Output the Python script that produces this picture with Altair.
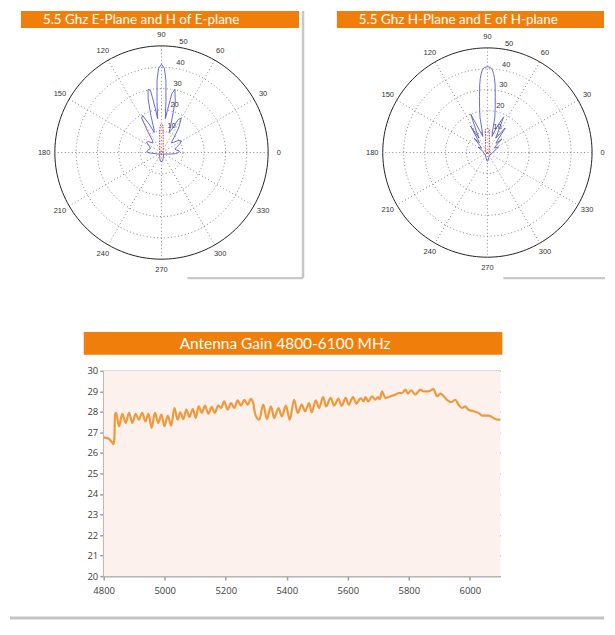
import altair as alt
import pandas as pd

# ---------------- texts ----------------
E_TITLE = "5.5 Ghz E-Plane and H of E-plane"
H_TITLE = "5.5 Ghz H-Plane and E of H-plane"
GAIN_TITLE = "Antenna Gain 4800-6100 MHz"

# ---------------- polar grid ----------------
ring_values = [10, 20, 30, 40]
ring_max = 50
ring_labels = [10, 20, 30, 40, 50]
spoke_angles = [0, 30, 60, 90, 120, 150]
angle_labels = [0, 30, 60, 90, 120, 150, 180, 210, 240, 270, 300, 330]
circle_angles = list(range(0, 361, 2))

# ---------------- E-plane pattern (blue) and H of E-plane (red) ----------------
e_blue_angle = [0, 5, 10, 15, 20, 25, 30, 35, 40, 45, 50, 55, 60, 63, 66, 69, 72, 75, 78, 80,
                82, 83.5, 85, 86.5, 88, 90, 92, 93.5, 95, 96.5, 98, 100, 102, 104, 106, 108, 110, 113, 117, 120,
                123, 127, 132, 140, 146, 152, 160, 170, 178, 182, 190, 200, 215, 230, 245, 255, 263, 270, 277, 285,
                295, 310, 325, 340, 350, 355, 360]
e_blue_r = [8.0, 8.4, 7.0, 6.5, 7.5, 9.5, 10.8, 10.0, 7.5, 6.5, 9.0, 14.0, 18.5, 17.5, 12.0, 10.0, 15.0, 25.0, 30.3, 28.0,
            20.0, 16.0, 24.0, 34.0, 39.5, 41.4, 39.5, 34.0, 24.0, 16.0, 21.0, 29.5, 30.3, 26.0, 18.0, 11.0, 10.0, 14.0, 19.5, 18.5,
            12.0, 7.0, 6.0, 8.0, 8.5, 6.5, 5.5, 6.5, 7.0, 5.5, 3.0, 2.0, 1.2, 1.5, 2.0, 3.0, 4.0, 4.5, 4.0, 3.0,
            2.0, 1.5, 1.2, 2.0, 4.0, 6.5, 8.0]
red_angle = [0, 30, 50, 65, 75, 80, 83, 85, 86, 87, 88, 89, 90, 91, 92, 93, 94, 95, 97, 100,
             105, 115, 130, 150, 180, 210, 240, 270, 300, 330, 360]
e_red_r = [0.8, 0.9, 1.2, 1.9, 3.1, 4.6, 6.6, 9.2, 10.8, 12.4, 13.0, 13.2, 13.2, 13.2, 13.0, 12.4, 10.8, 9.2, 6.6, 4.6,
           3.1, 1.9, 1.2, 0.9, 0.8, 0.7, 0.6, 0.6, 0.6, 0.7, 0.8]

# ---------------- H-plane pattern (blue) and E of H-plane (red) ----------------
h_blue_angle = [0, 10, 20, 27, 33, 38, 43, 47, 50, 54, 57, 60, 65.5, 69, 72, 74, 77, 78, 80, 82,
                83.5, 84.5, 85.5, 86.5, 88, 90, 92, 93.5, 94.5, 95.5, 96.5, 98, 100, 102, 103, 106, 110, 113.5, 117, 120,
                122.5, 126, 129, 133, 137, 143, 150, 157, 170, 180, 200, 230, 255, 265, 270, 275, 285, 310, 340, 360]
h_blue_r = [2.5, 3.0, 4.5, 6.0, 4.0, 5.0, 9.5, 6.0, 7.0, 14.5, 10.0, 8.0, 18.5, 14.0, 10.0, 8.0, 12.0, 17.0, 21.5, 27.0,
            32.5, 35.5, 37.8, 39.5, 40.7, 41.0, 40.7, 39.5, 37.8, 35.5, 32.5, 27.0, 21.5, 17.0, 12.0, 8.0, 12.0, 20.0, 12.0, 8.0,
            15.0, 8.0, 6.0, 9.3, 5.0, 3.5, 5.0, 3.0, 2.0, 2.0, 1.5, 1.5, 2.5, 3.8, 4.2, 3.8, 2.5, 1.5, 2.0, 2.5]
h_red_r = [0.9, 1.0, 1.4, 2.1, 3.5, 5.2, 7.4, 10.3, 11.2, 11.4, 11.5, 11.6, 11.6, 11.6, 11.5, 11.4, 11.2, 10.3, 7.4, 5.2,
           3.5, 2.1, 1.4, 1.0, 0.9, 0.7, 0.6, 0.6, 0.6, 0.7, 0.9]

# ---------------- antenna gain ----------------
gain_freq = [4800, 4814, 4822, 4828, 4832, 4835, 4837, 4841, 4850, 4861, 4872, 4883, 4894, 4905, 4915, 4926,
             4937, 4947, 4957, 4968, 4979, 4989, 4999, 5010, 5021, 5032, 5042, 5051, 5061, 5071, 5081, 5092,
             5102, 5111, 5122, 5132, 5143, 5154, 5164, 5175, 5185, 5195, 5206, 5217, 5228, 5239, 5250, 5261,
             5272, 5282, 5290, 5297, 5310, 5323, 5335, 5348, 5359, 5373, 5384, 5397, 5410, 5424, 5436, 5449,
             5460, 5473, 5482, 5495, 5506, 5519, 5529, 5544, 5555, 5569, 5580, 5593, 5603, 5617, 5628, 5642,
             5652, 5658, 5667, 5680, 5690, 5699, 5705, 5712, 5723, 5740, 5756, 5767, 5778, 5789, 5797, 5808,
             5821, 5838, 5849, 5865, 5881, 5892, 5903, 5914, 5925, 5939, 5952, 5963, 5974, 5985, 5995, 6012,
             6028, 6041, 6061, 6072, 6083, 6093, 6100]
gain_db = [26.76, 26.71, 26.62, 26.5, 26.43, 26.7, 27.87, 27.95, 27.30, 27.91, 27.46, 27.95, 27.46, 27.91, 27.62, 27.95,
           27.54, 27.91, 27.22, 27.95, 27.46, 27.87, 27.30, 27.82, 27.33, 28.19, 27.62, 27.98, 27.65, 28.11, 27.75, 28.14,
           27.70, 28.27, 27.95, 28.30, 27.91, 28.24, 27.95, 28.30, 28.19, 28.51, 28.11, 28.43, 28.19, 28.56, 28.30, 28.59,
           28.35, 28.63, 28.43, 27.87, 27.62, 28.35, 27.65, 28.27, 27.70, 28.19, 27.78, 28.30, 27.62, 28.59, 27.95, 28.35,
           28.03, 28.43, 27.98, 28.56, 28.19, 28.72, 28.27, 28.68, 28.30, 28.63, 28.30, 28.68, 28.35, 28.72, 28.40, 28.66,
           28.52, 28.72, 28.51, 28.76, 28.59, 28.72, 28.62, 29.0, 28.68, 28.76, 28.84, 28.92, 28.92, 29.08, 28.89, 29.05,
           28.84, 29.08, 29.0, 29.0, 29.11, 28.76, 28.89, 28.76, 28.59, 28.47, 28.59, 28.35, 28.19, 28.27, 28.11, 28.03,
           27.95, 27.82, 27.82, 27.75, 27.65, 27.62, 27.62]

ORANGE = "#ef7f0a"
POLAR_FONT = "Liberation Sans"
TITLE_FONT = "Lato"
LEFT_EXT = 94  # room left of every panel's origin (y-axis of the gain chart)

POLAR_CALC = {
    "x": "datum.r * cos(datum.a * PI / 180)",
    "y": "datum.r * sin(datum.a * PI / 180)",
}


def polar_panel(title, blue_a, blue_r, red_a, red_r, width, height, cx, cy, ppu,
                banner_x0, banner_x1, borders):
    xs = alt.Scale(domain=[-cx / ppu, (width - cx) / ppu], nice=False, zero=False)
    ys = alt.Scale(domain=[-(height - cy) / ppu, cy / ppu], nice=False, zero=False)
    X = lambda f: alt.X(f, type="quantitative", scale=xs, axis=None)
    Y = lambda f: alt.Y(f, type="quantitative", scale=ys, axis=None)

    rings_df = pd.DataFrame([{"r": r, "a": a, "i": i}
                             for r in ring_values for i, a in enumerate(circle_angles)])
    outer_df = pd.DataFrame([{"r": ring_max, "a": a, "i": i} for i, a in enumerate(circle_angles)])
    rings = alt.Chart(rings_df).transform_calculate(**POLAR_CALC).mark_line(
        color="#555", strokeWidth=0.7, strokeDash=[1, 2.5]
    ).encode(x=X("x"), y=Y("y"), detail="r:N", order="i:Q")
    outer = alt.Chart(outer_df).transform_calculate(**POLAR_CALC).mark_line(
        color="#222", strokeWidth=1
    ).encode(x=X("x"), y=Y("y"), order="i:Q")

    spokes_df = pd.DataFrame({"a": spoke_angles, "r": [ring_max] * len(spoke_angles)})
    spokes = alt.Chart(spokes_df).transform_calculate(**POLAR_CALC).transform_calculate(
        x2="-datum.x", y2="-datum.y"
    ).mark_rule(color="#555", strokeWidth=0.7, strokeDash=[1, 2.5]).encode(
        x=X("x"), y=Y("y"), x2="x2:Q", y2="y2:Q")

    alab_df = pd.DataFrame({"a": angle_labels, "r": [ring_max * 1.1] * len(angle_labels),
                            "t": [str(v) for v in angle_labels]})
    alab = alt.Chart(alab_df).transform_calculate(**POLAR_CALC).mark_text(
        font=POLAR_FONT, fontSize=7.5, color="#333", align="center", baseline="middle"
    ).encode(x=X("x"), y=Y("y"), text="t:N")

    rlab_df = pd.DataFrame({"a": [82] * len(ring_labels), "r": ring_labels,
                            "t": [str(v) for v in ring_labels]})
    rlab = alt.Chart(rlab_df).transform_calculate(**POLAR_CALC).mark_text(
        font=POLAR_FONT, fontSize=7.5, color="#333", align="left", baseline="bottom", dx=3, dy=-1
    ).encode(x=X("x"), y=Y("y"), text="t:N")

    blue_df = pd.DataFrame({"a": blue_a, "r": blue_r, "i": range(len(blue_a))})
    blue = alt.Chart(blue_df).transform_calculate(**POLAR_CALC).mark_line(
        color="#5a5ac8", strokeWidth=0.9
    ).encode(x=X("x"), y=Y("y"), order="i:Q")

    red_df = pd.DataFrame({"a": red_a, "r": red_r, "i": range(len(red_a))})
    red = alt.Chart(red_df).transform_calculate(**POLAR_CALC).mark_line(
        color="#e02828", strokeWidth=1, strokeDash=[1.5, 1.2]
    ).encode(x=X("x"), y=Y("y"), order="i:Q")

    t_df = pd.DataFrame({"t": [title]})
    banner = alt.Chart(t_df).mark_rect(color=ORANGE).encode(
        x=alt.value(banner_x0), x2=alt.value(banner_x1), y=alt.value(0), y2=alt.value(17))
    btext = alt.Chart(t_df).mark_text(
        font=TITLE_FONT, fontSize=13.5, color="white", align="left", baseline="middle"
    ).encode(x=alt.value(banner_x0 + 22), y=alt.value(9), text="t:N")

    layers = [rings, spokes, outer, alab, rlab, blue, red, banner, btext]
    for (bx0, bx1, by0, by1) in borders:
        enc = {"x": alt.value(bx0), "y": alt.value(by0)}
        if bx1 != bx0:
            enc["x2"] = alt.value(bx1)
        if by1 != by0:
            enc["y2"] = alt.value(by1)
        layers.append(alt.Chart(t_df).mark_rule(color="#c8c8c8", strokeWidth=2.5).encode(**enc))

    return alt.layer(*layers).properties(width=width, height=height)


# left panel: its content starts LEFT_EXT px left of its origin
left = polar_panel(E_TITLE, e_blue_angle, e_blue_r, red_angle, e_red_r,
                   width=297 - LEFT_EXT, height=270, cx=152 - LEFT_EXT, cy=142, ppu=107 / 50,
                   banner_x0=11 - LEFT_EXT, banner_x1=290 - LEFT_EXT,
                   borders=[(294 - LEFT_EXT, 294 - LEFT_EXT, 0, 268),
                            (178 - LEFT_EXT, 294 - LEFT_EXT, 268, 268)])
right = polar_panel(H_TITLE, h_blue_angle, h_blue_r, red_angle, h_red_r,
                    width=300, height=270, cx=182, cy=142, ppu=105 / 50,
                    banner_x0=31, banner_x1=299,
                    borders=[(198, 300, 268, 268)])
top = alt.hconcat(left, right, spacing=0)

# ---------------- gain chart ----------------
gain_df = pd.DataFrame({"freq": gain_freq, "gain": gain_db})
gt_df = pd.DataFrame({"t": [GAIN_TITLE]})
xs = alt.Scale(domain=[4800, 6100], nice=False, zero=False)
ys = alt.Scale(domain=[20, 30], nice=False, zero=False)

bg = alt.Chart(gt_df).mark_rect(color="#fdf1ed").encode(
    x=alt.value(0), x2=alt.value("width"), y=alt.value(0), y2=alt.value("height"))
gbanner = alt.Chart(gt_df).mark_rect(color=ORANGE).encode(
    x=alt.value(-20), x2=alt.value(400), y=alt.value(-39), y2=alt.value(-16))
gtext = alt.Chart(gt_df).mark_text(
    font=TITLE_FONT, fontSize=15.5, color="white", align="center", baseline="middle"
).encode(x=alt.value(182), y=alt.value(-27), text="t:N")
gline = alt.Chart(gain_df).mark_line(color="#f0983a", strokeWidth=2.2, interpolate="monotone").encode(
    x=alt.X("freq:Q", scale=xs, axis=alt.Axis(
        values=[4800, 5000, 5200, 5400, 5600, 5800, 6000], format="d", title=None, grid=False,
        labelFont="Open Sans", labelFontSize=9.5, labelColor="#404040", labelFlush=False,
        domainColor="#a0a0a0", domainWidth=1.5, tickColor="#a0a0a0", tickWidth=1.5, tickSize=4,
        labelPadding=5)),
    y=alt.Y("gain:Q", scale=ys, axis=alt.Axis(
        values=list(range(20, 31)), title=None, grid=True, gridColor="#a3a3a3", gridWidth=1.4,
        labelFont="Open Sans", labelFontSize=9.5, labelColor="#404040", labelFlush=False,
        domainColor="#a0a0a0", domainWidth=2.5, tickColor="#a0a0a0", tickWidth=1.5, tickSize=4,
        labelPadding=2, minExtent=LEFT_EXT)),
)
gbottom = alt.Chart(gt_df).mark_rule(color="#c4c4c4", strokeWidth=3).encode(
    x=alt.value(-LEFT_EXT), x2=alt.value(502), y=alt.value(248))

bottom = alt.layer(bg, gbanner, gtext, gline, gbottom).properties(width=398, height=206)

chart = alt.vconcat(top, bottom, spacing=52, padding=0).configure_view(strokeWidth=0)

chart.save("out.html", embed_options={"renderer": "svg", "actions": False})
